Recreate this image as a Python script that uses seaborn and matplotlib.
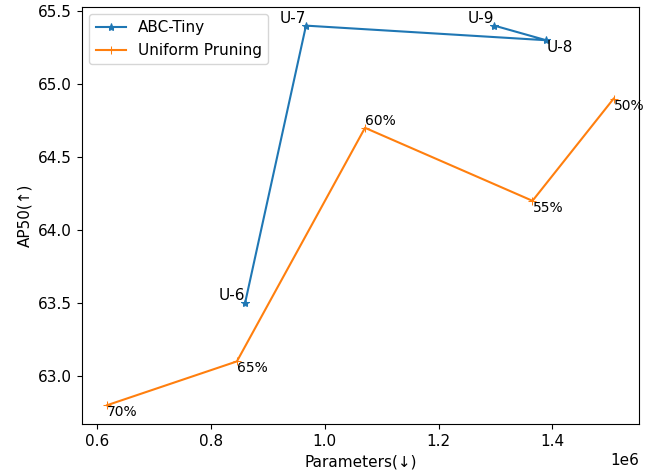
import matplotlib
matplotlib.use("Agg")
import matplotlib.pyplot as plt
import seaborn as sns
import pandas as pd

# ABC-Tiny
abc_params = [0.86e6, 0.967e6, 1.389e6, 1.298e6]
abc_ap50 = [63.5, 65.4, 65.3, 65.4]
abc_labels = ['U-6', 'U-7', 'U-8', 'U-9']

# Uniform pruning
uni_params = [0.6175e6, 0.8456e6, 1.0707e6, 1.365e6, 1.5076e6]
uni_ap50 = [62.8, 63.1, 64.7, 64.2, 64.9]
uni_labels = ['70%', '65%', '60%', '55%', '50%']

dt_abc = pd.DataFrame({'params': abc_params, 'ap50': abc_ap50})
dt_uni = pd.DataFrame({'params': uni_params, 'ap50': uni_ap50})

plt.rcParams['font.size'] = 11

fig, ax = plt.subplots(figsize=(6.54, 4.75), dpi=100)
fig.subplots_adjust(left=0.125, right=0.977, bottom=0.107, top=0.986)

sns.lineplot(data=dt_abc, x='params', y='ap50', sort=False, marker='*',
             markeredgecolor='#1f77b4', color='#1f77b4', label='ABC-Tiny', ax=ax)
sns.lineplot(data=dt_uni, x='params', y='ap50', sort=False, marker='+',
             markeredgecolor='#ff7f0e', color='#ff7f0e', label='Uniform Pruning', ax=ax)

# point labels
abc_align = [('right', 'bottom'), ('right', 'bottom'), ('left', 'top'), ('right', 'bottom')]
for x, y, t, (ha, va) in zip(abc_params, abc_ap50, abc_labels, abc_align):
    ax.text(x, y, t, ha=ha, va=va, fontsize=11)

uni_align = ['top', 'top', 'bottom', 'top', 'top']
for x, y, t, va in zip(uni_params, uni_ap50, uni_labels, uni_align):
    ax.text(x, y, t, ha='left', va=va, fontsize=10)

ax.set_xlabel('Parameters(↓)')
ax.set_ylabel('AP50(↑)')
ax.legend(loc='upper left')

plt.savefig('out.png', dpi=100)
